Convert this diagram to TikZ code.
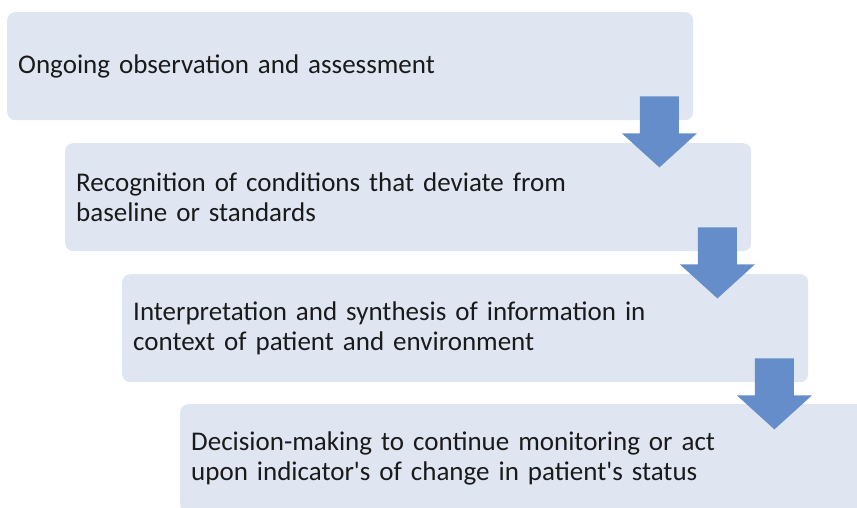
\documentclass[tikz,border=0pt]{standalone}
\usepackage{fontspec}
\setmainfont{Carlito}[Ligatures=TeXOff]
\usetikzlibrary{calc}
\definecolor{boxfill}{RGB}{223,230,242}
\definecolor{arrowblue}{RGB}{101,141,201}
\definecolor{txt}{RGB}{26,26,26}
\begin{document}
\begin{tikzpicture}[x=1pt,y=-1pt,
  stagebox/.style={draw=none,fill=boxfill,rounded corners=8pt,anchor=north west,
    inner xsep=11pt,inner ysep=0pt,text width=664pt,minimum height=108pt,align=left,
    font=\fontsize{27}{30}\selectfont,text=txt},
  downarrow/.style={fill=arrowblue,draw=none}]
\useasboundingbox (0,0) rectangle (857,508);
\clip (0,0) rectangle (857,508);
\node[stagebox] (b1) at (7,12) {Ongoing observation and assessment};
\node[stagebox] (b2) at (65,143) {Recognition of conditions that deviate from\\baseline or standards};
\node[stagebox] (b3) at (122,274) {Interpretation and synthesis of information in\\context of patient and environment};
\node[stagebox] (b4) at (180,404) {Decision-making to continue monitoring or act\\upon indicator's of change in patient's status};
\foreach \b in {b1,b2,b3}{
  \fill[downarrow] ($(\b.south east)+(-53.5,-24)$) -- ($(\b.south east)+(-14.5,-24)$)
    -- ($(\b.south east)+(-14.5,13)$) -- ($(\b.south east)+(3.5,13)$)
    -- ($(\b.south east)+(-34,47)$) -- ($(\b.south east)+(-71.5,13)$)
    -- ($(\b.south east)+(-53.5,13)$) -- cycle;
}
\end{tikzpicture}
\end{document}
